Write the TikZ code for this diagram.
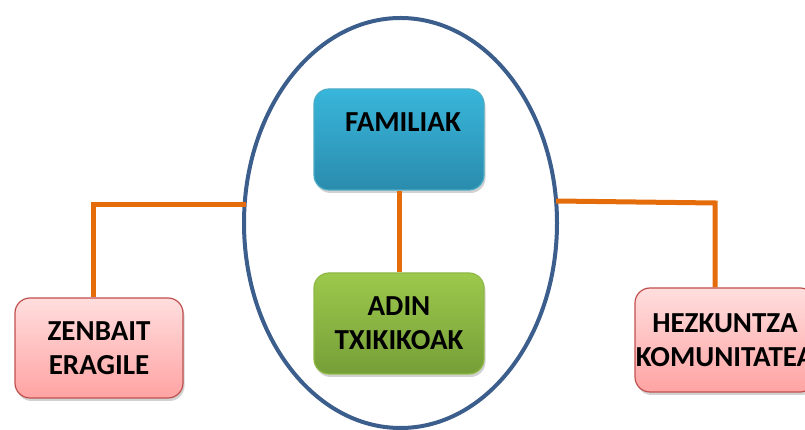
\documentclass[tikz,border=0pt]{standalone}
\usepackage{fontspec}
\setmainfont{Carlito}
\usetikzlibrary{shapes.geometric,shadows}
\definecolor{ellblue}{RGB}{59,94,140}
\definecolor{conorange}{RGB}{228,108,10}
\definecolor{bluetop}{RGB}{56,182,219}
\definecolor{bluebot}{RGB}{42,140,173}
\definecolor{blueline}{RGB}{75,172,198}
\definecolor{greentop}{RGB}{157,201,76}
\definecolor{greenbot}{RGB}{118,158,56}
\definecolor{greenline}{RGB}{143,184,69}
\definecolor{pinktop}{RGB}{255,222,222}
\definecolor{pinkbot}{RGB}{255,163,163}
\definecolor{pinkline}{RGB}{192,80,77}
\tikzset{
  boxbase/.style={rectangle, rounded corners=15pt, line width=1.2pt, inner xsep=0pt, inner ysep=0pt,
    font=\fontsize{29}{34}\selectfont\bfseries, align=center,
    drop shadow={shadow xshift=1.5pt, shadow yshift=-3pt, opacity=0.25, fill=black!70}},
  bluebox/.style={boxbase, draw=blueline, top color=bluetop, bottom color=bluebot},
  greenbox/.style={boxbase, draw=greenline, top color=greentop, bottom color=greenbot},
  pinkbox/.style={boxbase, draw=pinkline, top color=pinktop, bottom color=pinkbot},
  conn/.style={draw=conorange, line width=5pt},
  ringstyle/.style={draw=ellblue, line width=4pt, ellipse, inner sep=0pt}
}
\begin{document}
\begin{tikzpicture}[x=1pt,y=1pt]
\useasboundingbox (0,0) rectangle (805,430);
\clip (0,0) rectangle (805,430);
\node[ringstyle, minimum width=313pt, minimum height=410pt] (ell) at (400.5,207) {};
% connectors
\coordinate (lj) at (246,225);
\coordinate (rj) at (556,229);
\coordinate (rk) at (715,227);
% boxes
\node[bluebox, minimum width=170pt, text height=43pt, text depth=58pt] (fam) at (399,290.5) {\hspace*{8pt}FAMILIAK};
\node[greenbox, minimum width=170pt, minimum height=101pt] (adi) at (399,106.5) {\fontsize{29}{35}\selectfont ADIN\\\fontsize{29}{35}\selectfont TXIKIKOAK};
\node[pinkbox, minimum width=168pt, minimum height=100pt] (zen) at (99,82) {\fontsize{29}{39}\selectfont ZENBAIT\\\fontsize{29}{39}\selectfont ERAGILE};
\node[pinkbox, minimum width=180pt, minimum height=104pt] (hez) at (725,90) {\fontsize{29}{32}\selectfont HEZKUNTZA\\\fontsize{29}{32}\selectfont KOMUNITATEA};
\draw[conn] (fam.south) -- (adi.north);
\draw[conn] (lj) -| ([xshift=-6pt]zen.north);
\draw[conn] (rj) -- (rk) -- ([xshift=-10pt]hez.north);
\end{tikzpicture}
\end{document}
